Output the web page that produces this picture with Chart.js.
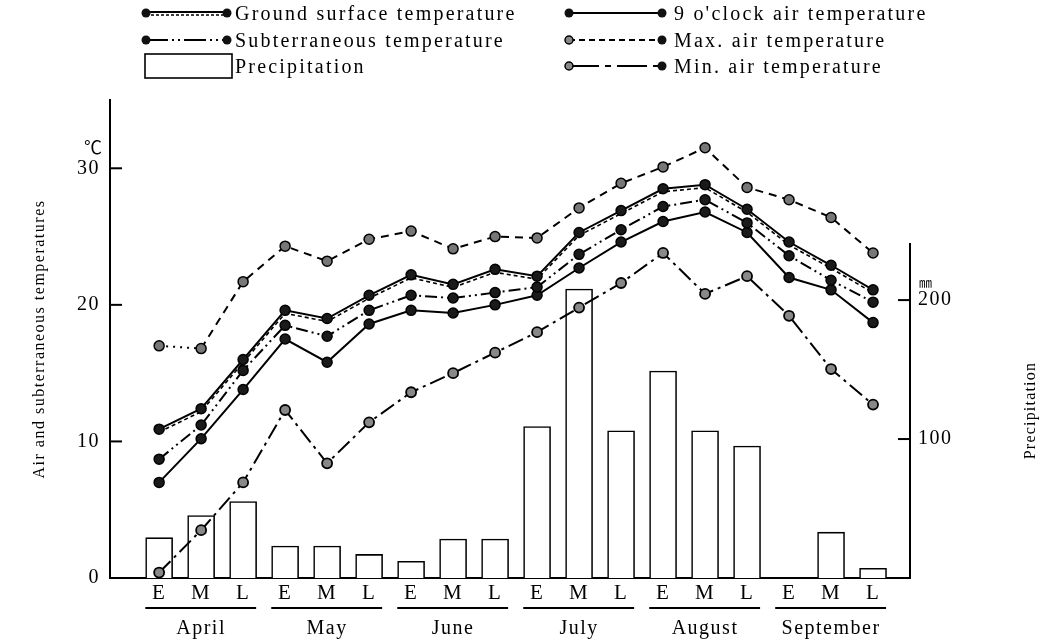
<!DOCTYPE html>
<html><head><meta charset="utf-8">
<script src="https://cdn.jsdelivr.net/npm/chart.js@4.4.1/dist/chart.umd.min.js"></script>
<style>
html,body{margin:0;padding:0;background:#fff;}
#wrap{position:relative;width:1050px;height:643px;overflow:hidden;}
#c{position:absolute;left:0;top:0;}
.lg{position:absolute;font-family:"Liberation Serif","Times New Roman",serif;font-size:20px;letter-spacing:2.2px;color:#000;line-height:20px;white-space:nowrap;}
#lgsvg{position:absolute;left:0;top:0;}
</style></head><body>
<div id="wrap">
<canvas id="c" width="1050" height="643"></canvas>
<svg id="lgsvg" width="1050" height="90" xmlns="http://www.w3.org/2000/svg">
  <line x1="146" y1="12" x2="227" y2="12" stroke="#000" stroke-width="2"/>
  <line x1="146" y1="15" x2="224" y2="15" stroke="#000" stroke-width="1.5" stroke-dasharray="3,2"/>
  <circle cx="146" cy="13" r="4.5" fill="#111"/><circle cx="227" cy="13" r="4.5" fill="#111"/>
  <line x1="146" y1="40" x2="227" y2="40" stroke="#000" stroke-width="2" stroke-dasharray="22,4,2,4,2,4"/>
  <circle cx="146" cy="40" r="4.5" fill="#111"/><circle cx="227" cy="40" r="4.5" fill="#111"/>
  <rect x="145" y="54" width="87" height="24" fill="#fff" stroke="#000" stroke-width="1.6"/>
  <line x1="569" y1="13" x2="662" y2="13" stroke="#000" stroke-width="2"/>
  <circle cx="569" cy="13" r="4.5" fill="#111"/><circle cx="662" cy="13" r="4.5" fill="#111"/>
  <line x1="569" y1="40" x2="662" y2="40" stroke="#000" stroke-width="1.8" stroke-dasharray="6,4"/>
  <circle cx="569" cy="40" r="4" fill="#888" stroke="#000" stroke-width="1.5"/><circle cx="662" cy="40" r="4.5" fill="#111"/>
  <line x1="569" y1="66" x2="662" y2="66" stroke="#000" stroke-width="2" stroke-dasharray="30,6,6,6"/>
  <circle cx="569" cy="66" r="4" fill="#888" stroke="#000" stroke-width="1.5"/><circle cx="662" cy="66" r="4.5" fill="#111"/>
</svg>
<div class="lg" style="left:235px;top:3px;">Ground surface temperature</div>
<div class="lg" style="left:235px;top:30px;">Subterraneous temperature</div>
<div class="lg" style="left:235px;top:56px;">Precipitation</div>
<div class="lg" style="left:674px;top:3px;">9 o'clock air temperature</div>
<div class="lg" style="left:674px;top:30px;">Max. air temperature</div>
<div class="lg" style="left:674px;top:56px;">Min. air temperature</div>
</div>
<script>
// ---- data ----
const periods = ['E','M','L','E','M','L','E','M','L','E','M','L','E','M','L','E','M','L'];
const months = ['April','May','June','July','August','September'];
const airMax        = [17.0,16.8,21.7,24.3,23.2,24.8,25.4,24.1,25.0,24.9,27.1,28.9,30.1,31.5,28.6,27.7,26.4,23.8];
const groundSurface = [10.9,12.4,16.0,19.6,19.0,20.7,22.2,21.5,22.6,22.1,25.3,26.9,28.5,28.8,27.0,24.6,22.9,21.1];
const subterraneous = [8.7,11.2,15.2,18.5,17.7,19.6,20.7,20.5,20.9,21.3,23.7,25.5,27.2,27.7,26.0,23.6,21.8,20.2];
const air9          = [7.0,10.2,13.8,17.5,15.8,18.6,19.6,19.4,20.0,20.7,22.7,24.6,26.1,26.8,25.3,22.0,21.1,18.7];
const airMin        = [0.4,3.5,7.0,12.3,8.4,11.4,13.6,15.0,16.5,18.0,19.8,21.6,23.8,20.8,22.1,19.2,15.3,12.7];
const precipitation = [29,45,55,23,23,17,12,28,28,109,208,106,149,106,95,0,33,7];
const tempTicks = [0,10,20,30];
const precipTicks = [100,200];

// ---- chart ----
const FONT = "'Liberation Serif','Times New Roman',serif";
Chart.defaults.font.family = FONT;
Chart.defaults.color = '#000';

const idx = periods.map((_, i) => i);
const pts = arr => arr.map((v, i) => ({x: i, y: v}));
const X_MIN = -1.17, X_MAX = 17.88;
const PRECIP_AXIS_TOP = 241;
const fixTicks = list => s => { s.ticks = list.map(v => ({value: v})); };

const offsetPlugin = {
  id: 'offsetLine',
  beforeDatasetDraw(chart, args) {
    const ds = chart.data.datasets[args.index];
    if (ds.offsetY) { chart.ctx.save(); chart.ctx.translate(0, ds.offsetY); }
  },
  afterDatasetDraw(chart, args) {
    const ds = chart.data.datasets[args.index];
    if (ds.offsetY) chart.ctx.restore();
  }
};

const spacingPlugin = {
  id: 'spacing',
  beforeDraw(chart) { chart.ctx.letterSpacing = '1.5px'; }
};

const decorPlugin = {
  id: 'decor',
  afterDraw(chart) {
    const {ctx, chartArea: ca, scales} = chart;
    const yT = scales.yT, yP = scales.yP, x = scales.x;
    const line = (a, b, c, d) => { ctx.beginPath(); ctx.moveTo(a, b); ctx.lineTo(c, d); ctx.stroke(); };
    ctx.save();
    ctx.strokeStyle = '#000'; ctx.lineWidth = 2;
    tempTicks.forEach(v => { if (v === 0) return; const y = yT.getPixelForValue(v); line(ca.left, y, ca.left + 12, y); });
    const yTop = yP.getPixelForValue(PRECIP_AXIS_TOP);
    line(ca.right, yTop, ca.right, ca.bottom + 1);
    precipTicks.forEach(v => { const y = yP.getPixelForValue(v); line(ca.right - 12, y, ca.right, y); });
    months.forEach((m, i) => {
      const a = x.getPixelForValue(3 * i - 0.33), b = x.getPixelForValue(3 * i + 2 + 0.31);
      line(a, ca.bottom + 30, b, ca.bottom + 30);
    });
    ctx.fillStyle = '#000';
    ctx.letterSpacing = '0px';
    ctx.textBaseline = 'middle';
    ctx.font = "18px 'Noto Sans CJK JP'";
    ctx.textAlign = 'right';
    ctx.fillText('℃', ca.left - 8, yT.getPixelForValue(30) - 21);
    ctx.font = "13px 'Noto Sans CJK JP'";
    ctx.textAlign = 'left';
    ctx.fillText('㎜', ca.right + 9, yP.getPixelForValue(200) - 18);
    ctx.font = "16px " + FONT;
    ctx.letterSpacing = '1.2px';
    ctx.translate(1031, (yTop + ca.bottom) / 2);
    ctx.rotate(-Math.PI / 2);
    ctx.textAlign = 'center';
    ctx.fillText('Precipitation', 0, 0);
    ctx.restore();
  }
};

const common = { xAxisID: 'x', tension: 0, fill: false, borderColor: '#000', pointBorderColor: '#000' };

new Chart(document.getElementById('c'), {
  data: {
    datasets: [
      { type: 'bar', label: 'Precipitation', data: pts(precipitation), yAxisID: 'yP', xAxisID: 'x',
        backgroundColor: '#fff', borderColor: '#000', borderWidth: 1.6, barThickness: 27, order: 10 },
      { ...common, type: 'line', label: 'Max. air temperature', data: pts(airMax), yAxisID: 'yT',
        borderWidth: 2, borderDash: [8, 6], pointRadius: 5, pointBackgroundColor: '#777', pointBorderWidth: 1.5, order: 1,
        segment: { borderDash: c => c.p0DataIndex === 0 ? [2, 5] : undefined } },
      { ...common, type: 'line', label: 'Ground surface temperature (b)', data: pts(groundSurface), yAxisID: 'yT',
        borderWidth: 1.6, borderDash: [4, 3], pointRadius: 0, offsetY: 3, order: 2 },
      { ...common, type: 'line', label: 'Ground surface temperature', data: pts(groundSurface), yAxisID: 'yT',
        borderWidth: 2, pointRadius: 5, pointBackgroundColor: '#1a1a1a', pointBorderWidth: 1.5, order: 1 },
      { ...common, type: 'line', label: 'Subterraneous temperature', data: pts(subterraneous), yAxisID: 'yT',
        borderWidth: 2, borderDash: [12, 4, 2, 4, 2, 4], pointRadius: 5, pointBackgroundColor: '#1a1a1a', pointBorderWidth: 1.5, order: 1 },
      { ...common, type: 'line', label: "9 o'clock air temperature", data: pts(air9), yAxisID: 'yT',
        borderWidth: 2, pointRadius: 5, pointBackgroundColor: '#1a1a1a', pointBorderWidth: 1.5, order: 1 },
      { ...common, type: 'line', label: 'Min. air temperature', data: pts(airMin), yAxisID: 'yT',
        borderWidth: 2, borderDash: [16, 5, 3, 5], pointRadius: 5, pointBackgroundColor: '#888', pointBorderWidth: 1.8, order: 1 }
    ]
  },
  options: {
    responsive: false, animation: false, devicePixelRatio: 1,
    layout: { padding: { top: 100, left: 0, right: 0, bottom: 0 } },
    plugins: { legend: { display: false }, tooltip: { enabled: false } },
    scales: {
      x: { type: 'linear', position: 'bottom', min: X_MIN, max: X_MAX, offset: false,
        grid: { display: false, drawTicks: false, offset: false }, border: { display: true, color: '#000', width: 2 },
        ticks: { font: { size: 21 }, color: '#000', padding: 3, autoSkip: false, maxRotation: 0,
          callback: v => (Number.isInteger(v) && periods[v]) ? periods[v] : '' },
        afterBuildTicks: fixTicks(idx), afterFit: s => { s.height = 35; } },
      xMonth: { type: 'linear', position: 'bottom', min: X_MIN, max: X_MAX, offset: false,
        grid: { display: false, drawTicks: false, offset: false }, border: { display: false },
        ticks: { font: { size: 20 }, color: '#000', padding: 4, autoSkip: false, maxRotation: 0,
          callback: v => (Number.isInteger(v) && v % 3 === 1) ? months[(v - 1) / 3] : '' },
        afterBuildTicks: fixTicks(idx), afterFit: s => { s.height = 30; } },
      yT: { type: 'linear', position: 'left', min: 0, max: 35,
        grid: { display: false, drawTicks: false }, border: { display: true, color: '#000', width: 2 },
        ticks: { font: { size: 20 }, color: '#000', padding: 10 },
        afterBuildTicks: fixTicks(tempTicks), afterFit: s => { s.width = 110; },
        title: { display: true, text: 'Air and subterraneous temperatures', font: { size: 16 }, color: '#000', padding: { top: 30, bottom: 0 } } },
      yP: { type: 'linear', position: 'right', min: 0, max: 344,
        grid: { display: false, drawTicks: false }, border: { display: false },
        ticks: { font: { size: 20 }, color: '#000', padding: 8 },
        afterBuildTicks: fixTicks(precipTicks), afterFit: s => { s.width = 140; } }
    }
  },
  plugins: [offsetPlugin, spacingPlugin, decorPlugin]
});
</script>
</body></html>
